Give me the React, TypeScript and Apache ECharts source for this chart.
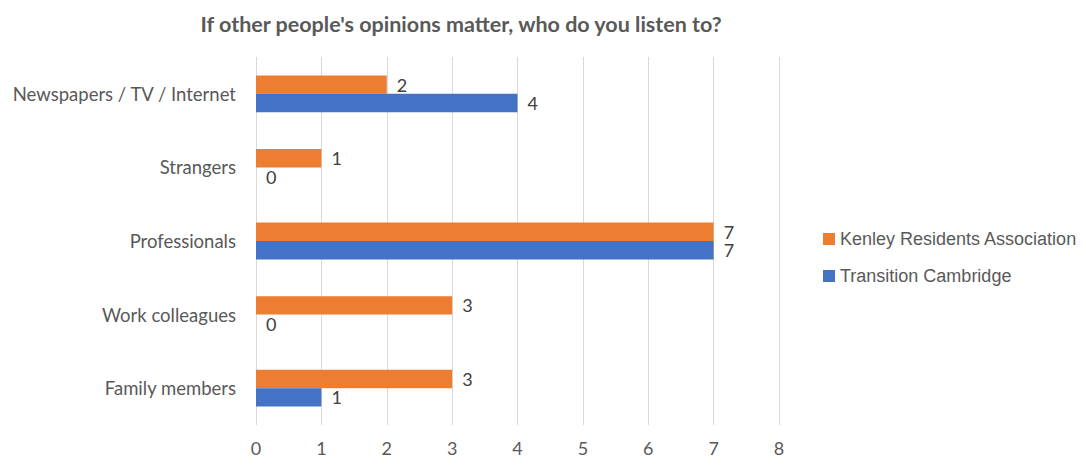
import React, { useEffect, useRef } from "react";
import * as echarts from "echarts";

const categories = ["Newspapers / TV / Internet", "Strangers", "Professionals", "Work colleagues", "Family members"];
const kenley = [2, 1, 7, 3, 3];
const transition = [4, 0, 7, 0, 1];
const seriesNames = ["Kenley Residents Association", "Transition Cambridge"];
const xTicks = [0, 8, 1];

export default function App() {
  const ref = useRef<HTMLDivElement>(null);
  useEffect(() => {
    const chart = echarts.init(ref.current!, undefined, { renderer: "svg" });
    const labelStyle = {
      show: true,
      position: "right" as const,
      distance: 10,
      color: "#404040",
      fontSize: 18,
      fontFamily: "Lato",
    };
    chart.setOption({
      animation: false,
      title: {
        text: "If other people's opinions matter, who do you listen to?",
        left: 456,
        textAlign: "center",
        top: 8,
        textStyle: { fontFamily: "Lato", fontWeight: "bold", fontSize: 21.5, color: "#595959" },
      },
      legend: {
        orient: "vertical",
        left: 818,
        top: 225,
        itemWidth: 12,
        itemHeight: 12,
        itemGap: 19,
        icon: "rect",
        textStyle: { fontFamily: "Liberation Sans", fontSize: 18, color: "#595959" },
        data: seriesNames,
      },
      grid: { left: 256, right: 307, top: 57, height: 368, containLabel: false },
      xAxis: {
        type: "value",
        min: xTicks[0],
        max: xTicks[1],
        interval: xTicks[2],
        axisLine: { show: false },
        axisTick: { show: false },
        splitLine: { show: true, lineStyle: { color: "#d9d9d9", width: 1 } },
        axisLabel: { color: "#595959", fontSize: 18, fontFamily: "Lato", margin: 14 },
      },
      yAxis: {
        type: "category",
        data: categories,
        inverse: true,
        axisLine: { show: false },
        axisTick: { show: false },
        axisLabel: { color: "#595959", fontSize: 18.5, fontFamily: "Lato", margin: 20 },
      },
      series: [
        {
          name: seriesNames[0],
          type: "bar",
          data: kenley,
          itemStyle: { color: "#ED7D31" },
          barGap: "0%",
          barCategoryGap: "50%",
          label: labelStyle,
        },
        {
          name: seriesNames[1],
          type: "bar",
          data: transition,
          itemStyle: { color: "#4472C4" },
          barGap: "0%",
          barCategoryGap: "50%",
          label: labelStyle,
        },
      ],
    });
    return () => chart.dispose();
  }, []);
  return <div ref={ref} style={{ position: "fixed", left: 0, top: 0, width: 1086, height: 466, background: "#fff" }} />;
}
